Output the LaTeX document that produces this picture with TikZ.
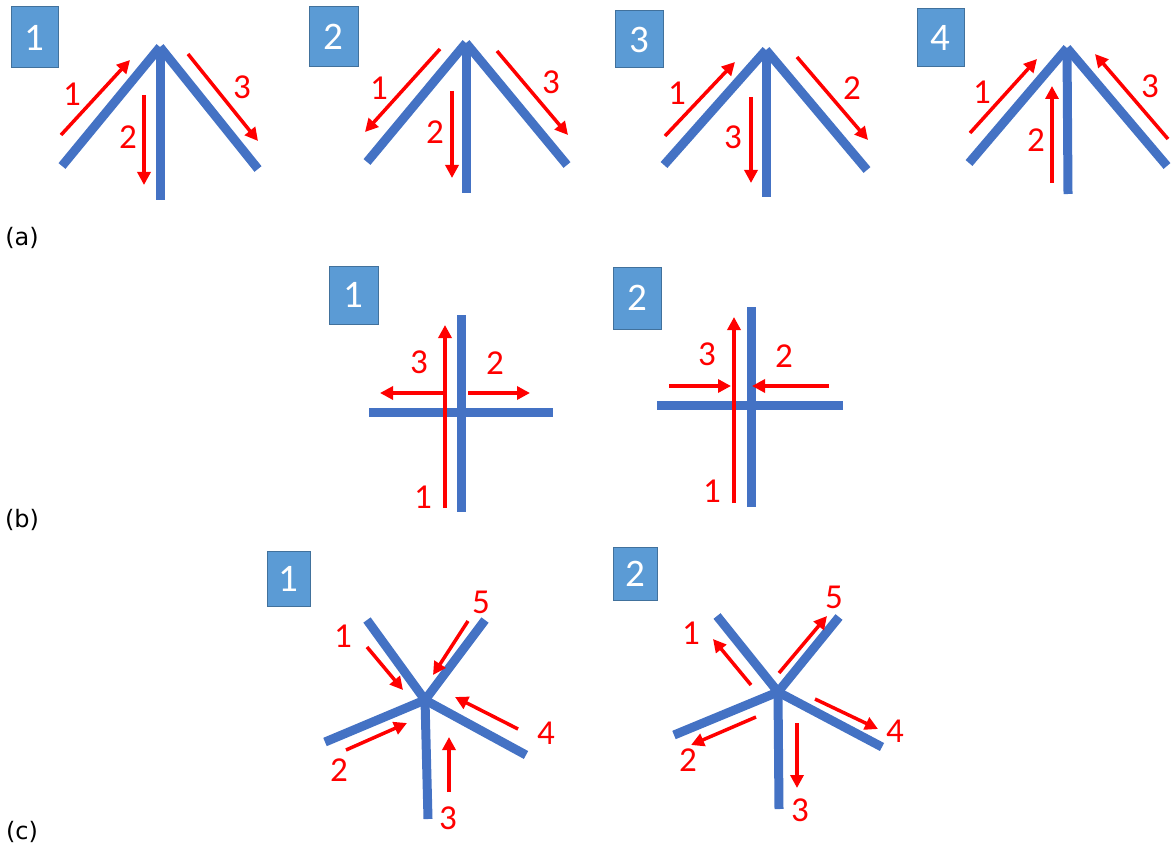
\documentclass[tikz,border=0pt]{standalone}
\usepackage{fontspec}
\usetikzlibrary{arrows.meta}
\newfontfamily\digfont{Carlito}
\newfontfamily\capfont{DejaVu Sans}
\definecolor{barblue}{HTML}{4472C4}
\definecolor{boxfill}{HTML}{5B9BD5}
\definecolor{boxedge}{HTML}{41719C}
\definecolor{flowred}{HTML}{FF0000}
\tikzset{
  bar/.style={draw=barblue, line width=9pt, line cap=butt},
  flow/.style={draw=flowred, line width=3.5pt, -{Triangle[length=13pt,width=13pt]}},
  lbl/.style={text=flowred, font=\digfont\fontsize{35}{35}\selectfont, inner sep=0pt},
  tag/.style={fill=boxfill, draw=boxedge, line width=1pt, text=white, font=\digfont\fontsize{39}{39}\selectfont, inner sep=0pt},
  partlabel/.style={font=\capfont\fontsize{24}{24}\selectfont, inner sep=0pt}
}
\begin{document}
\begin{tikzpicture}[x=1pt,y=-1pt]
\useasboundingbox (0,0) rectangle (1174,850);
% ---------- (a) ----------
% a1
\node[tag, minimum width=47pt, minimum height=61pt] (ta1) at (34.5,37.5) {1};
\coordinate (a1o) at (160,47);
\coordinate (a1l) at (62,166); \coordinate (a1r) at (258,169); \coordinate (a1d) at (160,200);
\draw[bar] (a1o) -- (a1l); \draw[bar] (a1o) -- (a1r); \draw[bar] (a1o) -- (a1d);
\coordinate (a1s1) at (61,135); \coordinate (a1e1) at (130,60);
\coordinate (a1s2) at (144,95); \coordinate (a1e2) at (144,185);
\coordinate (a1s3) at (188,54); \coordinate (a1e3) at (258,141);
\draw[flow] (a1s1) -- (a1e1); \draw[flow] (a1s2) -- (a1e2); \draw[flow] (a1s3) -- (a1e3);
\node[lbl] (a1n1) at (72,94) {1}; \node[lbl] (a1n2) at (128,137) {2}; \node[lbl] (a1n3) at (242,87) {3};
% a2
\node[tag, minimum width=49pt, minimum height=60pt] (ta2) at (333.5,37) {2};
\coordinate (a2o) at (466,43);
\coordinate (a2l) at (367,162); \coordinate (a2r) at (567,165); \coordinate (a2d) at (466,193);
\draw[bar] (a2o) -- (a2l); \draw[bar] (a2o) -- (a2r); \draw[bar] (a2o) -- (a2d);
\coordinate (a2s1) at (440,49); \coordinate (a2e1) at (365,132);
\coordinate (a2s2) at (452,91); \coordinate (a2e2) at (452,178);
\coordinate (a2s3) at (497,51); \coordinate (a2e3) at (568,135);
\draw[flow] (a2s1) -- (a2e1); \draw[flow] (a2s2) -- (a2e2); \draw[flow] (a2s3) -- (a2e3);
\node[lbl] (a2n1) at (379,88) {1}; \node[lbl] (a2n2) at (435,132) {2}; \node[lbl] (a2n3) at (551,82) {3};
% a3
\node[tag, minimum width=48pt, minimum height=57pt] (ta3) at (639,39.5) {3};
\coordinate (a3o) at (766,50);
\coordinate (a3l) at (664,165); \coordinate (a3r) at (867,170); \coordinate (a3d) at (766,197);
\draw[bar] (a3o) -- (a3l); \draw[bar] (a3o) -- (a3r); \draw[bar] (a3o) -- (a3d);
\coordinate (a3s1) at (665,136); \coordinate (a3e1) at (735,62);
\coordinate (a3s2) at (797,57); \coordinate (a3e2) at (868,140);
\coordinate (a3s3) at (751,97); \coordinate (a3e3) at (751,183);
\draw[flow] (a3s1) -- (a3e1); \draw[flow] (a3s2) -- (a3e2); \draw[flow] (a3s3) -- (a3e3);
\node[lbl] (a3n1) at (677,93) {1}; \node[lbl] (a3n2) at (852,88) {2}; \node[lbl] (a3n3) at (733,137) {3};
% a4
\node[tag, minimum width=47pt, minimum height=58pt] (ta4) at (940.5,38) {4};
\coordinate (a4o) at (1067,48);
\coordinate (a4l) at (969,163); \coordinate (a4r) at (1167,166); \coordinate (a4d) at (1068,194);
\draw[bar] (a4o) -- (a4l); \draw[bar] (a4o) -- (a4r); \draw[bar] (a4o) -- (a4d);
\coordinate (a4s1) at (970,133); \coordinate (a4e1) at (1037,59);
\coordinate (a4s2) at (1052,183); \coordinate (a4e2) at (1052,86);
\coordinate (a4s3) at (1168,139); \coordinate (a4e3) at (1095,54);
\draw[flow] (a4s1) -- (a4e1); \draw[flow] (a4s2) -- (a4e2); \draw[flow] (a4s3) -- (a4e3);
\node[lbl] (a4n1) at (982,92) {1}; \node[lbl] (a4n2) at (1036,140) {2}; \node[lbl] (a4n3) at (1150,86) {3};
\node[partlabel] (capa) at (22,238) {(a)};
% ---------- (b) ----------
% b1
\node[tag, minimum width=49pt, minimum height=58pt] (tb1) at (353.5,295) {1};
\coordinate (b1t) at (461,315); \coordinate (b1b) at (461,512);
\coordinate (b1w) at (369,412); \coordinate (b1e) at (553,412);
\draw[bar] (b1w) -- (b1e); \draw[bar] (b1t) -- (b1b);
\coordinate (b1s1) at (445,508); \coordinate (b1e1) at (445,325);
\coordinate (b1s3) at (443,393); \coordinate (b1e3) at (380,393);
\coordinate (b1s2) at (468,393); \coordinate (b1e2) at (530,393);
\draw[flow] (b1s1) -- (b1e1); \draw[flow] (b1s3) -- (b1e3); \draw[flow] (b1s2) -- (b1e2);
\node[lbl] (b1n1) at (423,497) {1}; \node[lbl] (b1n3) at (419,362) {3}; \node[lbl] (b1n2) at (495,363) {2};
% b2
\node[tag, minimum width=48pt, minimum height=62pt] (tb2) at (637,298) {2};
\coordinate (b2t) at (751,307); \coordinate (b2b) at (751,507);
\coordinate (b2w) at (657,405); \coordinate (b2e) at (843,405);
\draw[bar] (b2w) -- (b2e); \draw[bar] (b2t) -- (b2b);
\coordinate (b2s1) at (734,503); \coordinate (b2e1) at (734,317);
\coordinate (b2s3) at (669,386); \coordinate (b2e3) at (731,386);
\coordinate (b2s2) at (829,386); \coordinate (b2e2) at (752,386);
\draw[flow] (b2s1) -- (b2e1); \draw[flow] (b2s3) -- (b2e3); \draw[flow] (b2s2) -- (b2e2);
\node[lbl] (b2n1) at (712,491) {1}; \node[lbl] (b2n3) at (707,354) {3}; \node[lbl] (b2n2) at (784,356) {2};
\node[partlabel] (capb) at (22,520) {(b)};
% ---------- (c) ----------
% c1
\node[tag, minimum width=43pt, minimum height=55pt] (tc1) at (288.5,578.5) {1};
\coordinate (c1o) at (425,700);
\coordinate (c1a) at (367,620); \coordinate (c1e) at (485,620); \coordinate (c1d) at (526,755);
\coordinate (c1c) at (428,819); \coordinate (c1b) at (325,742);
\draw[bar] (c1o) -- (c1a); \draw[bar] (c1o) -- (c1e); \draw[bar] (c1o) -- (c1d);
\draw[bar] (c1o) -- (c1c); \draw[bar] (c1o) -- (c1b);
\coordinate (c1s1) at (367,647); \coordinate (c1e1) at (403,690);
\coordinate (c1s5) at (468,621); \coordinate (c1e5) at (433,675);
\coordinate (c1s4) at (518,729); \coordinate (c1e4) at (455,697);
\coordinate (c1s3) at (449,792); \coordinate (c1e3) at (449,737);
\coordinate (c1s2) at (346,750); \coordinate (c1e2) at (407,723);
\draw[flow] (c1s1) -- (c1e1); \draw[flow] (c1s5) -- (c1e5); \draw[flow] (c1s4) -- (c1e4);
\draw[flow] (c1s3) -- (c1e3); \draw[flow] (c1s2) -- (c1e2);
\node[lbl] (c1n1) at (343,636) {1}; \node[lbl] (c1n5) at (481,602) {5}; \node[lbl] (c1n4) at (546,733) {4};
\node[lbl] (c1n3) at (448,818) {3}; \node[lbl] (c1n2) at (339,770) {2};
% c2
\node[tag, minimum width=44pt, minimum height=53pt] (tc2) at (635,573.5) {2};
\coordinate (c2o) at (778,692);
\coordinate (c2a) at (717,616); \coordinate (c2e) at (839,617); \coordinate (c2d) at (882,747);
\coordinate (c2c) at (779,809); \coordinate (c2b) at (674,735);
\draw[bar] (c2o) -- (c2a); \draw[bar] (c2o) -- (c2e); \draw[bar] (c2o) -- (c2d);
\draw[bar] (c2o) -- (c2c); \draw[bar] (c2o) -- (c2b);
\coordinate (c2s1) at (751,685); \coordinate (c2e1) at (713,639);
\coordinate (c2s5) at (779,673); \coordinate (c2e5) at (827,616);
\coordinate (c2s4) at (815,699); \coordinate (c2e4) at (878,729);
\coordinate (c2s3) at (797,723); \coordinate (c2e3) at (797,788);
\coordinate (c2s2) at (756,717); \coordinate (c2e2) at (691,745);
\draw[flow] (c2s1) -- (c2e1); \draw[flow] (c2s5) -- (c2e5); \draw[flow] (c2s4) -- (c2e4);
\draw[flow] (c2s3) -- (c2e3); \draw[flow] (c2s2) -- (c2e2);
\node[lbl] (c2n1) at (691,633) {1}; \node[lbl] (c2n5) at (834,597) {5}; \node[lbl] (c2n4) at (895,731) {4};
\node[lbl] (c2n3) at (800,810) {3}; \node[lbl] (c2n2) at (688,760) {2};
\node[partlabel] (capc) at (22,832) {(c)};
\end{tikzpicture}
\end{document}
